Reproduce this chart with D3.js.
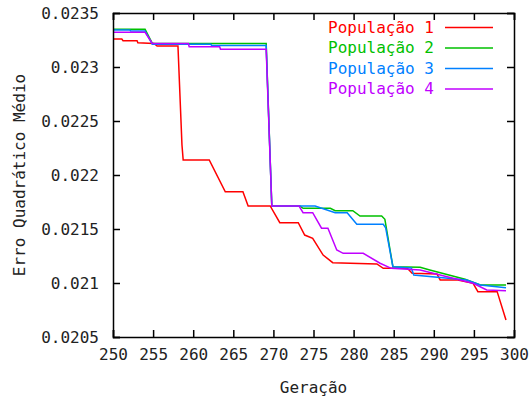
<!DOCTYPE html>
<html>
<head>
<meta charset="utf-8">
<script src="https://cdn.jsdelivr.net/npm/d3@7"></script>
<style>
   body { margin: 0; background: #fff; }
   text { font-family: "DejaVu Sans Mono", monospace; font-size: 16px; }
</style>
</head>
<body>
<div id="chart"></div>
<script>

// SERIES NAMES & COLORS
var names = ['População 1', 'População 2', 'População 3', 'População 4'];
var colors = ['#ff0000', '#00c000', '#0080ff', '#c000ff'];

// POPULATION 1
var gen1 = [250, 251.1, 251.25, 253, 253.1, 255.1, 255.5, 258.1, 258.6, 258.75, 262, 264, 266.2, 266.85, 269.6, 270.8, 273.1, 273.9, 274.9, 276.2, 277.4, 282.9, 283.7, 286.7, 287.3, 290.4, 290.8, 293, 294.9, 295.5, 297.9, 299];
var pop1 = [0.023259, 0.023259, 0.023244, 0.023244, 0.023225, 0.023218, 0.023194, 0.023194, 0.022278, 0.022139, 0.022139, 0.021845, 0.021845, 0.021713, 0.021713, 0.021558, 0.021558, 0.021444, 0.021414, 0.021259, 0.021188, 0.021176, 0.021136, 0.021136, 0.021090, 0.021083, 0.021028, 0.021028, 0.020997, 0.020920, 0.020920, 0.020657];

// POPULATION 2
var gen2 = [250, 254, 254.9, 269.1, 269.8, 273.3, 273.7, 277.1, 277.7, 279.9, 280.8, 283.5, 283.9, 284.9, 288.3, 289.5, 293.9, 295.8, 299];
var pop2 = [0.023349, 0.023349, 0.023218, 0.023218, 0.021713, 0.021713, 0.021692, 0.021692, 0.021670, 0.021670, 0.021620, 0.021620, 0.021590, 0.021151, 0.021145, 0.021120, 0.021034, 0.020982, 0.020982];

// POPULATION 3
var gen3 = [250, 252.1, 252.2, 254, 254.9, 262.2, 262.3, 269.1, 269.8, 275.2, 277.7, 279.2, 280.4, 283.7, 284, 284.9, 287.2, 287.5, 294.1, 295.8, 299];
var pop3 = [0.023343, 0.023343, 0.023334, 0.023334, 0.023210, 0.023210, 0.023199, 0.023199, 0.021713, 0.021713, 0.021651, 0.021651, 0.021544, 0.021544, 0.021510, 0.021151, 0.021139, 0.021074, 0.021028, 0.020982, 0.020957];

// POPULATION 4
var gen4 = [250, 254, 254.9, 259.4, 259.5, 263.3, 263.4, 269.1, 269.8, 273.2, 273.7, 274.9, 276, 276.8, 277.9, 278.7, 281.2, 283.3, 284.7, 288.3, 294.9, 296.6, 299];
var pop4 = [0.023321, 0.023321, 0.023218, 0.023218, 0.023187, 0.023187, 0.023164, 0.023164, 0.021713, 0.021713, 0.021651, 0.021651, 0.021507, 0.021507, 0.021306, 0.021275, 0.021275, 0.021183, 0.021136, 0.021120, 0.020997, 0.020935, 0.020929];

// TICKS
var xTicks = [250, 255, 260, 265, 270, 275, 280, 285, 290, 295, 300];
var yTicks = [0.0205, 0.021, 0.0215, 0.022, 0.0225, 0.023, 0.0235];
var yLabels = ['0.0205', '0.021', '0.0215', '0.022', '0.0225', '0.023', '0.0235'];

// CHART SETTINGS
var settings = {
   width: 530,
   height: 400,
   left: 113,
   right: 514,
   top: 13,
   bottom: 337,
   tick: 7
};

// ZIP GENERATIONS & VALUES
var series = [gen1, gen2, gen3, gen4].map((gens, i) => {
   var values = [pop1, pop2, pop3, pop4][i];
   return gens.map((g, j) => { return { g: g, v: values[j] } });
});

// SCALES
var xScale = d3.scaleLinear()
   .domain([250, 300])
   .range([settings.left, settings.right])

var yScale = d3.scaleLinear()
   .domain([0.0205, 0.0235])
   .range([settings.bottom, settings.top])

// CANVAS
var canvas = d3.select('#chart').append('svg')
   .attr('width', settings.width)
   .attr('height', settings.height)

// LINE METHOD
var pathify = d3.line()
   .x((d) => { return xScale(d.g) })
   .y((d) => { return yScale(d.v) })

// DRAW SERIES
series.forEach((data, i) => {
   canvas.append('path')
      .attr('d', pathify(data))
      .attr('fill', 'none')
      .attr('stroke', colors[i])
      .attr('stroke-width', 1.5)
});

// AXES -- TICKS POINT INWARD ON ALL SIDES
var bottomAxis = d3.axisBottom(xScale).tickValues(xTicks).tickSize(-settings.tick).tickPadding(12).tickFormat(d3.format('d'));
var topAxis = d3.axisTop(xScale).tickValues(xTicks).tickSize(-settings.tick).tickFormat('');
var leftAxis = d3.axisLeft(yScale).tickValues(yTicks).tickSize(-settings.tick).tickPadding(14).tickFormat((d, i) => { return yLabels[i] });
var rightAxis = d3.axisRight(yScale).tickValues(yTicks).tickSize(-settings.tick).tickFormat('');

canvas.append('g').attr('transform', 'translate(0,' + settings.bottom + ')').call(bottomAxis);
canvas.append('g').attr('transform', 'translate(0,' + settings.top + ')').call(topAxis);
canvas.append('g').attr('transform', 'translate(' + settings.left + ',0)').call(leftAxis);
canvas.append('g').attr('transform', 'translate(' + settings.right + ',0)').call(rightAxis);

// AXIS STYLING
canvas.selectAll('.domain').attr('stroke', '#000').attr('stroke-width', 1.5);
canvas.selectAll('.tick line').attr('stroke', '#000').attr('stroke-width', 1.5);
canvas.selectAll('.tick text').attr('fill', '#222').style('font-size', '16px').style('font-family', '"DejaVu Sans Mono", monospace');

// AXIS TITLES
canvas.append('text')
   .attr('x', (settings.left + settings.right) / 2)
   .attr('y', 393)
   .attr('text-anchor', 'middle')
   .attr('fill', '#222')
   .text('Geração')

canvas.append('text')
   .attr('transform', 'translate(25,' + ((settings.top + settings.bottom) / 2) + ') rotate(-90)')
   .attr('text-anchor', 'middle')
   .attr('fill', '#222')
   .text('Erro Quadrático Médio')

// LEGEND
names.forEach((name, i) => {
   var y = 27.5 + i * 20.5;

   canvas.append('text')
      .attr('x', 434)
      .attr('y', y + 5)
      .attr('text-anchor', 'end')
      .attr('fill', colors[i])
      .text(name)

   canvas.append('line')
      .attr('x1', 445)
      .attr('x2', 493)
      .attr('y1', y)
      .attr('y2', y)
      .attr('stroke', colors[i])
      .attr('stroke-width', 1.5)
});

</script>
</body>
</html>
